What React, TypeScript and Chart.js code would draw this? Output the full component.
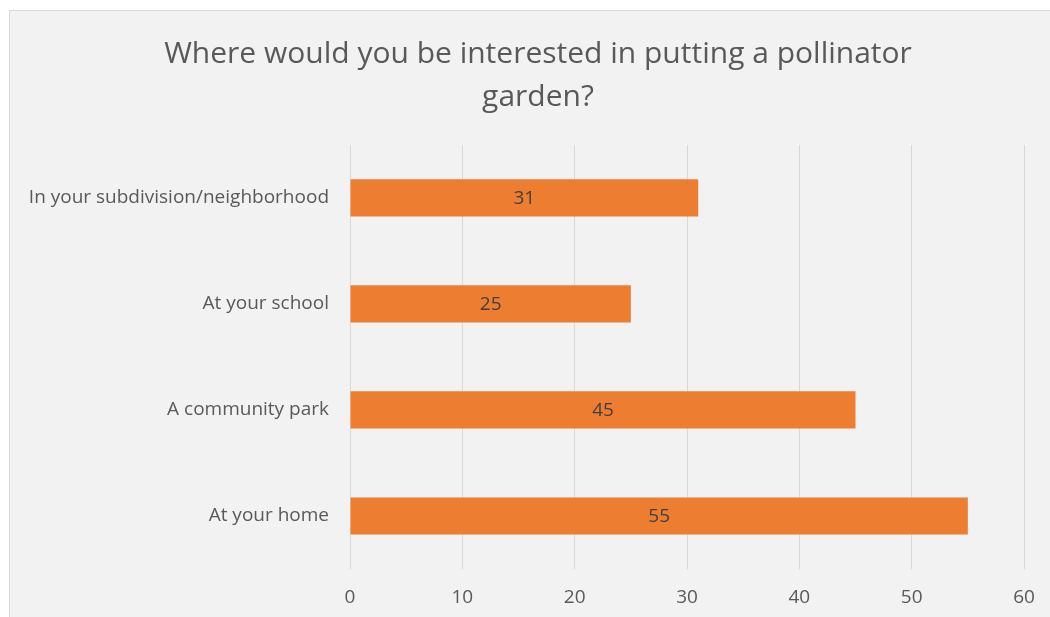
import React, { useEffect, useRef } from "react";
import { Chart, registerables } from "chart.js";

Chart.register(...registerables);

const titleLines = ["Where would you be interested in putting a pollinator", "garden?"];
const categories = [
  "In your subdivision/neighborhood",
  "At your school",
  "A community park",
  "At your home",
];
const responses = [31, 25, 45, 55];
const xMin = 0;
const xMax = 60;
const xStep = 10;

const FONT = "'Open Sans', 'DejaVu Sans', sans-serif";
const W = 1057;
const H = 610;

const barLabelPlugin = {
  id: "barLabels",
  afterLayout(chart: any) {
    const t = chart.titleBlock;
    if (t) {
      t.left = 0;
      t.right = chart.width;
      t.width = chart.width;
    }
  },
  afterDatasetsDraw(chart: any) {
    const ctx = chart.ctx;
    const meta = chart.getDatasetMeta(0);
    ctx.save();
    ctx.font = `19px ${FONT}`;
    ctx.fillStyle = "#404040";
    ctx.textAlign = "center";
    ctx.textBaseline = "middle";
    meta.data.forEach((bar: any, i: number) => {
      const cx = (bar.x + bar.base) / 2;
      ctx.fillText(String(chart.data.datasets[0].data[i]), cx, bar.y + 1);
    });
    ctx.restore();
  },
};

export default function App() {
  const ref = useRef<HTMLCanvasElement | null>(null);
  useEffect(() => {
    if (!ref.current) return;
    const chart = new Chart(ref.current, {
      type: "bar",
      data: {
        labels: categories,
        datasets: [
          {
            data: responses,
            backgroundColor: "#ED7D31",
            borderWidth: 0,
            categoryPercentage: 0.7,
            barPercentage: 0.5,
          },
        ],
      },
      options: {
        indexAxis: "y",
        responsive: false,
        animation: false,
        layout: { padding: { left: 0, right: 42, top: 0, bottom: 0 } },
        plugins: {
          legend: { display: false },
          tooltip: { enabled: false },
          title: {
            display: true,
            text: titleLines,
            color: "#595959",
            font: { family: FONT, size: 30, weight: "normal", lineHeight: 1.43 },
            padding: { top: 22, bottom: 26 },
          },
        },
        scales: {
          x: {
            min: xMin,
            max: xMax,
            ticks: {
              stepSize: xStep,
              color: "#595959",
              font: { family: FONT, size: 19 },
              padding: 17,
            },
            grid: { color: "#d9d9d9", lineWidth: 1, drawTicks: false },
            border: { display: false },
            afterFit(scale: any) {
              scale.height = 51;
            },
          },
          y: {
            ticks: {
              color: "#595959",
              font: { family: FONT, size: 19 },
              padding: 21,
            },
            grid: { display: false, drawTicks: false },
            border: { display: false },
            afterFit(scale: any) {
              scale.width = 340;
            },
          },
        },
      },
      plugins: [barLabelPlugin],
    });
    return () => chart.destroy();
  }, []);
  return (
    <div
      style={{
        position: "fixed",
        left: 9,
        top: 10,
        width: W,
        height: H,
        background: "#f2f2f2",
        borderTop: "1px solid #d9d9d9",
        borderLeft: "1px solid #d9d9d9",
        boxSizing: "border-box",
      }}
    >
      <canvas ref={ref} width={W - 1} height={H - 1} style={{ display: "block" }} />
    </div>
  );
}
